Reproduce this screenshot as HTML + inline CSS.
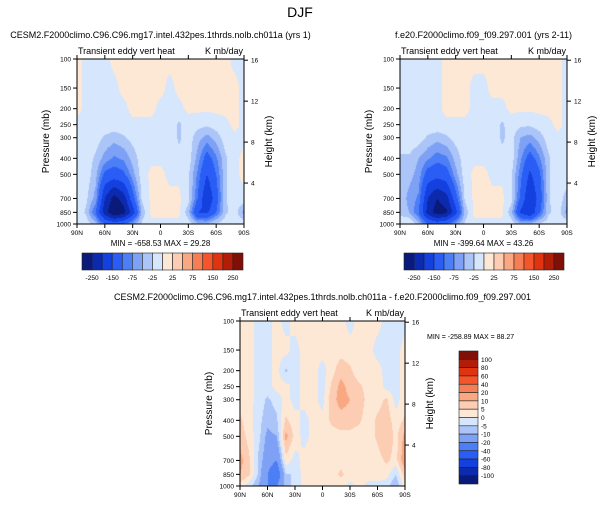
<!DOCTYPE html>
<html><head><meta charset="utf-8">
<style>
body{margin:0;background:#fff;width:601px;height:505px;overflow:hidden;position:relative;font-family:"Liberation Sans",sans-serif}
canvas{position:absolute}
svg{position:absolute;left:0;top:0}
text{font-family:"Liberation Sans",sans-serif;fill:#000}
</style></head><body>
<canvas id="c1" style="left:77px;top:59px" width="167" height="165"></canvas>
<canvas id="c2" style="left:400px;top:59px" width="167" height="165"></canvas>
<canvas id="c3" style="left:240px;top:321px" width="165" height="165"></canvas>
<svg id="s" width="601" height="505"></svg>
<script>
const lats=['90N','80N','70N','60N','50N','40N','30N','20N','10N','0','10S','20S','30S','40S','50S','60S','70S','80S','90S'];
const pLevels=[100,150,200,250,300,400,500,700,850,1000];
const pTicks=[100,150,200,250,300,400,500,700,850,1000];
const latTickLabels=['90N','60N','30N','0','30S','60S','90S'];
const zTicks=[4,8,12,16];
const topBounds=[-250,-200,-150,-100,-75,-50,-25,0,25,50,75,100,150,200,250];
const topLabels=['-250','-150','-75','-25','25','75','150','250'];
const diffBounds=[-100,-80,-60,-40,-20,-10,-5,0,5,10,20,40,60,80,100];
const colors=['#0a1a7a','#0c2aae','#1440df','#2a5df6','#4c7ff5','#7ea1f6','#abc5f8','#d6e6fc','#fde8d6','#fccdb2','#f9a882','#f67e54','#f5552b','#e0330f','#b31c07','#800f08'];
const field1=[
[5,-5,-5,-5,5,5,5,5,5,5,5,5,5,5,5,5,5,-5,-5],
[5,-5,-5,-5,-5,5,5,5,5,5,-5,5,5,5,5,5,5,5,-5],
[5,-5,-5,-5,-5,-5,5,5,5,-5,-5,-5,5,5,5,5,5,5,-5],
[-5,-5,-5,-5,-8,-5,-5,-5,-5,-5,-5,-30,-10,-15,-20,-10,-5,5,-5],
[-5,-5,-10,-30,-40,-30,-15,-5,-5,-5,-5,-30,-10,-40,-60,-40,-10,-5,-5],
[-5,-10,-30,-60,-80,-70,-40,-10,-5,-5,-5,-15,-10,-60,-120,-80,-30,-5,5],
[-5,-10,-40,-110,-120,-110,-60,-10,5,5,-5,-5,-20,-80,-150,-100,-30,-5,5],
[-5,-20,-60,-200,-270,-230,-120,-20,5,10,5,5,-15,-100,-200,-120,-30,-5,-5],
[-5,-30,-100,-230,-300,-270,-180,-40,5,5,5,5,-40,-150,-160,-100,-30,-10,-60],
[-5,-10,-40,-100,-120,-100,-60,-20,-5,-5,-5,-5,-10,-40,-40,-20,-10,-5,-5]];
const field2=[
[-5,-5,-5,-5,-5,5,5,5,5,5,5,5,5,5,5,5,5,5,-5],
[-5,-5,-5,-5,-5,5,5,5,-5,-5,5,5,5,5,5,5,5,5,-5],
[-5,-5,-5,-5,-5,5,5,5,-5,-5,-5,-5,5,5,5,5,5,5,-5],
[-5,-5,-5,-5,-5,-5,-5,-5,-5,-5,-5,-30,-10,-20,-20,-10,-5,5,-5],
[-5,-5,-10,-30,-40,-30,-15,-5,-5,-5,-5,-30,-15,-50,-60,-40,-10,-5,-5],
[-30,-30,-50,-70,-90,-80,-40,-10,-5,-5,-5,-15,-10,-70,-120,-80,-30,-5,-5],
[-30,-40,-60,-120,-130,-120,-60,-10,5,5,-5,-5,-20,-90,-160,-110,-30,-5,-5],
[-30,-60,-80,-200,-250,-220,-120,-20,5,10,5,5,-15,-110,-200,-130,-30,-5,-40],
[-30,-50,-100,-220,-280,-260,-170,-40,5,5,5,5,-40,-160,-200,-110,-30,-10,-60],
[-10,5,-40,-100,-120,-100,-60,-20,-5,-5,-5,-5,-10,-40,-40,-20,-10,-5,-5]];
const field3=[
[2,2,-2,-2,2,-2,2,2,2,2,2,2,-2,2,2,2,-2,-2,-2],
[2,2,-2,-2,2,2,-2,2,2,2,2,3,2,2,2,-2,-2,-2,2],
[2,2,-2,-2,2,-6,-2,2,2,-2,3,8,6,2,2,2,-2,-2,2],
[2,2,-2,-2,2,2,-2,2,2,-2,6,12,8,6,3,3,-2,-2,2],
[3,2,-2,-6,-3,2,-2,2,2,-2,8,12,10,8,3,3,6,-2,3],
[6,2,-3,-8,-6,6,2,-2,2,2,6,8,8,6,2,6,8,2,6],
[8,3,-3,-12,-10,12,3,-2,2,2,3,3,3,2,2,6,10,3,12],
[12,6,-6,-15,-20,3,-2,2,2,3,2,3,3,2,2,3,6,3,15],
[10,6,-6,-20,-30,-5,-5,3,3,2,3,6,3,2,3,3,2,-5,8],
[3,-3,-10,-20,-20,-8,-3,2,2,2,2,2,-2,2,-2,-2,-3,-10,3]];

function classify(v,b){let i=0;while(i<b.length&&v>=b[i])i++;return i;}
function lp(p){return Math.log(p/100)/Math.log(10);}
function draw(id,f,b){
  const c=document.getElementById(id),ctx=c.getContext('2d'),W=c.width,H=c.height;
  const lps=pLevels.map(lp);
  for(let y=0;y<H;y+=1){
    const t=(y+0.5)/H;let r=0;while(r<lps.length-2&&t>lps[r+1])r++;
    const fr=Math.min(1,Math.max(0,(t-lps[r])/(lps[r+1]-lps[r])));
    for(let x=0;x<W;x+=1){
      const u=(x+0.5)/W*(lats.length-1);const ci=Math.min(lats.length-2,Math.floor(u));const fc=u-ci;
      const v=(f[r][ci]*(1-fc)+f[r][ci+1]*fc)*(1-fr)+(f[r+1][ci]*(1-fc)+f[r+1][ci+1]*fc)*fr;
      ctx.fillStyle=colors[classify(v,b)];ctx.fillRect(x,y,1,1);
    }
  }
}
draw('c1',field1,topBounds);draw('c2',field2,topBounds);draw('c3',field3,diffBounds);

const s=document.getElementById('s');const NS='http://www.w3.org/2000/svg';
function el(tag,attrs,txt){const e=document.createElementNS(NS,tag);for(const k in attrs)e.setAttribute(k,attrs[k]);if(txt!==undefined)e.textContent=txt;s.appendChild(e);return e;}
function txt(x,y,t,size,anchor,name,rot){const e=el('text',{x:x,y:y,'font-size':size,'text-anchor':anchor||'middle'},t);
  if(rot)e.setAttribute('transform','rotate(-90 '+x+' '+y+')');
  
  return e;}
function panel(x0,y0,w,h,title,minmax,mmOutside,k){
  const r=el('rect',{x:x0,y:y0,width:w,height:h,fill:'none',stroke:'#000','stroke-width':1});
  
  
  const yOf=p=>y0+lp(p)*h;
  pTicks.forEach(p=>{const y=yOf(p);el('line',{x1:x0-4,y1:y,x2:x0,y2:y,stroke:'#000'});
    txt(x0-6,y+2.5,String(p),6.5,'end','pressure-tick-label');});
  latTickLabels.forEach((l,i)=>{const x=x0+i*w/6;el('line',{x1:x,y1:y0+h,x2:x,y2:y0+h+4,stroke:'#000'});
    el('line',{x1:x,y1:y0,x2:x,y2:y0-4,stroke:'#000'});
    txt(x,y0+h+11,l,6.5,'middle','latitude-tick-label');});
  zTicks.forEach(z=>{const p=1000*Math.exp(-z/7);const y=yOf(p);el('line',{x1:x0+w,y1:y,x2:x0+w+4,y2:y,stroke:'#000'});
    txt(x0+w+7,y+2.5,String(z),6.5,'start','height-tick-label');});
  txt(x0-28,y0+h/2,'Pressure (mb)',10,'middle','y-axis-title',true);
  txt(x0+w+28,y0+h/2,'Height (km)',10,'middle','right-axis-title',true);
  txt(x0+1,y0-5,'Transient eddy vert heat',9,'start','subtitle-left');
  txt(x0+w-1,y0-5,'K mb/day',9,'end','units-label');
  txt(x0+w/2,y0-21,title,9,'middle','panel-title');
  if(!mmOutside)txt(x0+w/2,y0+h+22,minmax,8,'middle','min-max-label');
}
txt(300,17,'DJF',14,'middle','main-title');
panel(77,59,167,165,'CESM2.F2000climo.C96.C96.mg17.intel.432pes.1thrds.nolb.ch011a (yrs 1)','MIN = -658.53  MAX =  29.28',false,1);
panel(400,59,167,165,'f.e20.F2000climo.f09_f09.297.001 (yrs 2-11)','MIN = -399.64  MAX =  43.26',false,2);
panel(240,321,165,165,'CESM2.F2000climo.C96.C96.mg17.intel.432pes.1thrds.nolb.ch011a - f.e20.F2000climo.f09_f09.297.001','',true,3);
txt(427,339,'MIN = -258.89  MAX =  88.27',7,'start','diff-min-max-label');
function hbar(x0,y0,w,h){const bw=w/colors.length;
  colors.forEach((c,i)=>{const r=el('rect',{x:x0+i*bw,y:y0,width:bw,height:h,fill:c,stroke:'#222','stroke-width':0.6});
    
    });
  topLabels.forEach((l,j)=>{const i=1+2*j;txt(x0+i*bw,y0+h+10,l,6.5,'middle','colorbar-label');});}
hbar(82,253,161,17);hbar(404,253,160,17);
(function(){const x0=459,y0=351,w=19,H=133,bh=H/colors.length;
  colors.slice().reverse().forEach((c,i)=>{const r=el('rect',{x:x0,y:y0+i*bh,width:w,height:bh,fill:c,stroke:'#222','stroke-width':0.6});
    
    });
  diffBounds.slice().reverse().forEach((b,i)=>{txt(x0+w+3,y0+(i+1)*bh+2.5,String(b),6.5,'start','diff-colorbar-label');});})();
</script>
</body></html>
